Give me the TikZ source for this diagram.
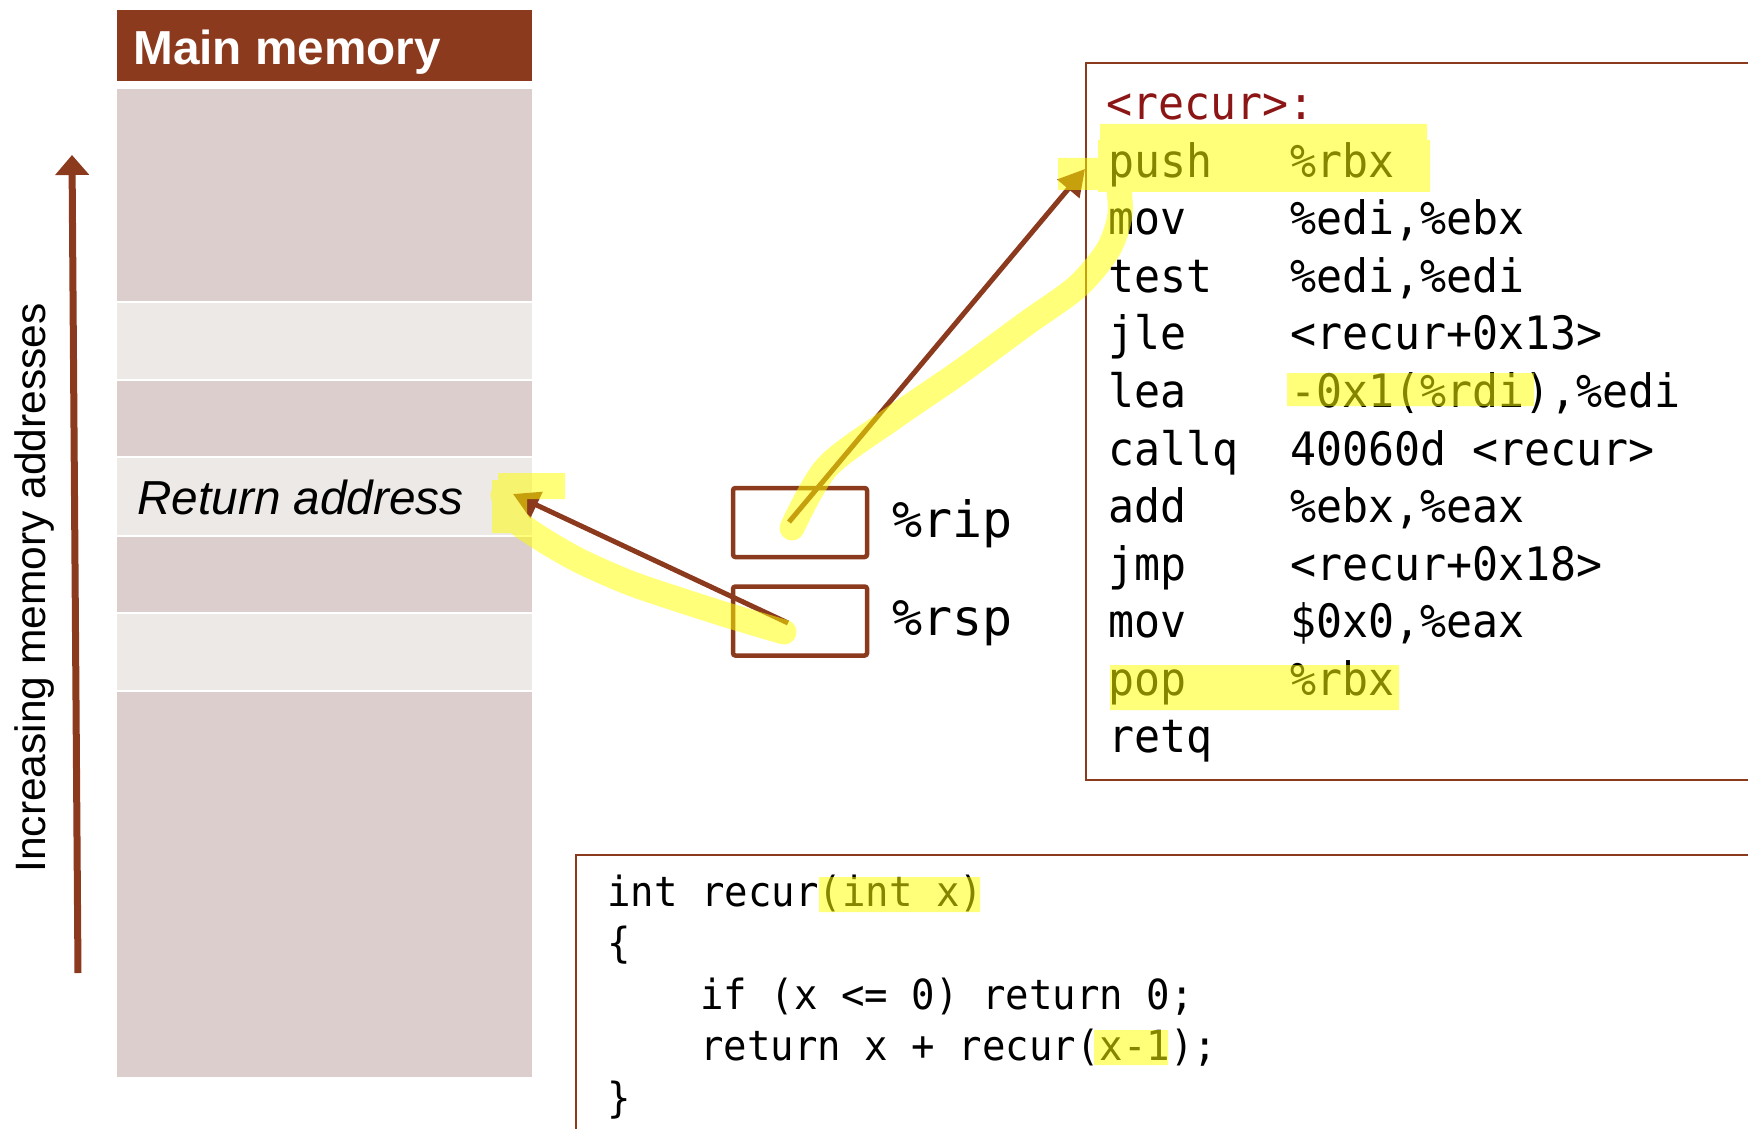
\documentclass[tikz,border=0pt]{standalone}
\usepackage{fontspec}
\setmainfont{Liberation Sans}
\newfontfamily\codefont[FakeStretch=0.94]{DejaVu Sans Mono}
\newfontfamily\regfont{DejaVu Sans Mono}
\usetikzlibrary{arrows.meta}
\definecolor{hdrbrown}{RGB}{139,58,30}
\definecolor{celldark}{RGB}{219,206,205}
\definecolor{celllight}{RGB}{237,233,231}
\definecolor{labelred}{RGB}{140,22,22}
\definecolor{marker}{RGB}{255,255,0}
\newcommand\ins[2]{\makebox[91pt][l]{#1}#2}
\begin{document}
\begin{tikzpicture}[x=0.5pt,y=-0.5pt,
  cell/.style={inner sep=0pt, outer sep=0pt, anchor=north west, minimum width=207.5pt},
  darkcell/.style={cell, fill=celldark},
  lightcell/.style={cell, fill=celllight},
  regbox/.style={draw=hdrbrown, line width=2.25pt, rounded corners=1.2pt, inner sep=0pt,
    minimum width=67pt, minimum height=34.5pt},
  reglabel/.style={anchor=base west, inner sep=0pt, font=\regfont\fontsize{25pt}{25pt}\selectfont},
  asm/.style={anchor=base west, inner sep=0pt, font=\codefont\fontsize{23pt}{23pt}\selectfont},
  csrc/.style={anchor=base west, inner sep=0pt, font=\codefont\fontsize{20.75pt}{20.75pt}\selectfont},
  codebox/.style={draw=hdrbrown, line width=1.1pt},
  ptr/.style={draw=hdrbrown, line width=2.5pt, -{Triangle[length=13pt,width=14pt]}},
  hlstroke/.style={draw=marker, line width=12.5pt, line cap=round, line join=round},
]
\useasboundingbox (0,0) rectangle (1748,1128);
\fill[white] (0,0) rectangle (1748,1128);

% memory column
\node[cell, fill=hdrbrown, minimum height=35.5pt] (hdr) at (117,10) {};
\node[anchor=base west, inner sep=0pt, text=white, font=\bfseries\fontsize{23.85pt}{28pt}\selectfont] (hdrtext) at (133,65) {Main memory};
\node[darkcell,  minimum height=106pt]  (c1) at (117,89)  {};
\node[lightcell, minimum height=38pt]   (c2) at (117,303) {};
\node[darkcell,  minimum height=37.5pt] (c3) at (117,381) {};
\node[lightcell, minimum height=38.5pt] (c4) at (117,458) {};
\node[darkcell,  minimum height=37.5pt] (c5) at (117,537) {};
\node[lightcell, minimum height=38pt]   (c6) at (117,614) {};
\node[darkcell,  minimum height=192.5pt](c7) at (117,692) {};
\node[anchor=base west, inner sep=0pt, font=\itshape\fontsize{23.85pt}{28pt}\selectfont] (rettext) at (137,514) {Return address};

% address direction
\node[rotate=90, anchor=base west, inner sep=0pt, font=\fontsize{21.25pt}{25pt}\selectfont] (dirlabel) at (45,873) {Increasing memory addresses};
\coordinate (dirlow) at (78,973);
\coordinate (dirhigh) at (72,155);
\draw[draw=hdrbrown, line width=3.5pt, -{Triangle[length=10pt,width=16.5pt]}] (dirlow) -- (dirhigh);

% registers
\node[regbox] (rip) at (800,522.5) {};
\node[regbox] (rsp) at (800,621) {};
\node[reglabel] (riplabel) at (892,537) {\%rip};
\node[reglabel] (rsplabel) at (892,635) {\%rsp};

% assembly listing
\draw[codebox] (1760,63) -- (1086,63) -- (1086,780) -- (1760,780);
\node[asm, text=labelred] (a0) at (1106,120)   {<recur>:};
\node[asm] (a1)  at (1108,177.5) {\ins{push}{\%rbx}};
\node[asm] (a2)  at (1108,235)   {\ins{mov}{\%edi,\%ebx}};
\node[asm] (a3)  at (1108,292.5) {\ins{test}{\%edi,\%edi}};
\node[asm] (a4)  at (1108,350)   {\ins{jle}{<recur+0x13>}};
\node[asm] (a5)  at (1108,407.5) {\ins{lea}{-0x1(\%rdi),\%edi}};
\node[asm] (a6)  at (1108,465)   {\ins{callq}{40060d <recur>}};
\node[asm] (a7)  at (1108,522.5) {\ins{add}{\%ebx,\%eax}};
\node[asm] (a8)  at (1108,580)   {\ins{jmp}{<recur+0x18>}};
\node[asm] (a9)  at (1108,637.5) {\ins{mov}{\$0x0,\%eax}};
\node[asm] (a10) at (1108,695)   {\ins{pop}{\%rbx}};
\node[asm] (a11) at (1108,752.5) {\ins{retq}{}};

% C source
\draw[codebox] (1760,855) -- (576,855) -- (576,1140);
\node[csrc] (s1) at (607,906)    {int recur(int x)};
\node[csrc] (s2) at (607,957.6)  {\{};
\node[csrc] (s3) at (700,1009.2) {if (x <= 0) return 0;};
\node[csrc] (s4) at (700,1060.8) {return x + recur(x-1);};
\node[csrc] (s5) at (607,1112.4) {\}};

% pointers
\coordinate (rsp-ptr) at (788,623);
\coordinate (ret-tip) at (513,494);
\coordinate (rip-ptr) at (789,522);
\coordinate (push-tip) at (1085,169);
\draw[ptr] (rsp-ptr) -- (ret-tip);
\draw[ptr] (rip-ptr) -- (push-tip);

% highlighter marks
\begin{scope}[transparency group, opacity=0.52]
  \fill[marker] (1100,124) rectangle (1427,190);
  \fill[marker] (1098,140) rectangle (1430,192);
  \fill[marker] (1058,158) rectangle (1102,190);
  \draw[hlstroke] plot[smooth] coordinates {(792,528) (827,467) (893,418) (960,372) (1027,323) (1077,287) (1108,250) (1120,215) (1118,180)};
  \draw[hlstroke] plot[smooth] coordinates {(784,632) (730,616) (680,600) (630,583) (580,561) (540,538) (513,518) (503,495)};
  \fill[marker] (498,473) rectangle (565,499);
  \fill[marker] (492,480) rectangle (527,533);
  \fill[marker] (1287,373) rectangle (1534,406);
  \fill[marker] (1110,665) rectangle (1399,710);
  \fill[marker] (819,877) rectangle (980,912);
  \fill[marker] (1094,1030) rectangle (1168,1065);
\end{scope}
\end{tikzpicture}
\end{document}
